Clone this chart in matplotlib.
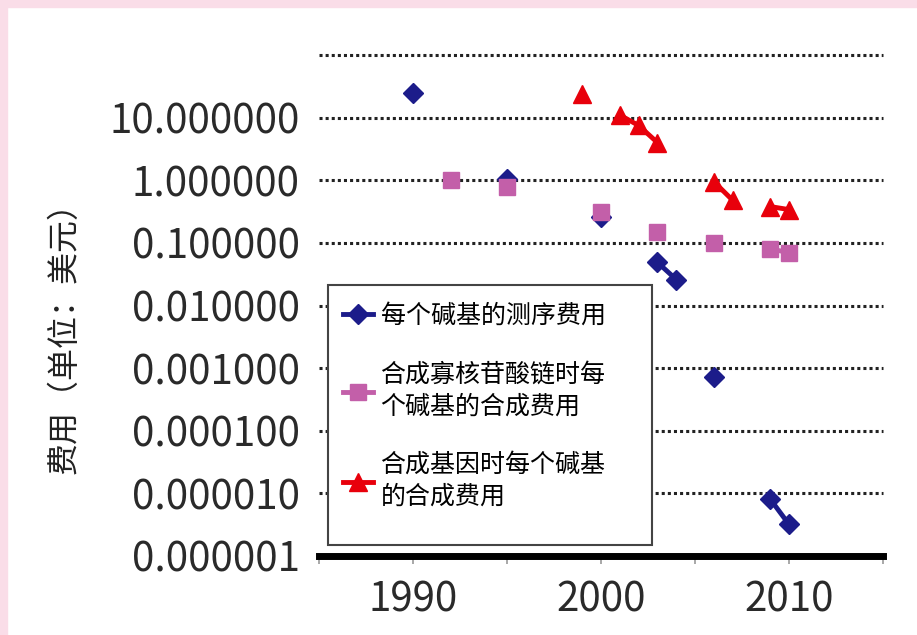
import numpy as np
import matplotlib.pyplot as plt
from matplotlib.patches import Rectangle

plt.rcParams['font.family'] = ['Noto Sans CJK SC', 'DejaVu Sans']

# Data (cost per base, USD)
seq_years = [1990, 1995, 2000, 2003, 2004, 2006, 2009, 2010]
seq_cost = [25, 1.05, 0.26, 0.049, 0.026, 0.00072, 8.1e-6, 3.2e-6]

oligo_years = [1992, 1995, 2000, 2003, 2006, 2009, 2010]
oligo_cost = [1.0, 0.78, 0.31, 0.15, 0.10, 0.08, 0.07]

gene_years = [1999, 2001, 2002, 2003, 2006, 2007, 2009, 2010]
gene_cost = [24, 11, 7.5, 4.0, 0.95, 0.48, 0.38, 0.34]

series_labels = ["每个碱基的测序费用",
                 "合成寡核苷酸链时每\n个碱基的合成费用",
                 "合成基因时每个碱基\n的合成费用"]
y_ticks = [1e-6, 1e-5, 1e-4, 1e-3, 1e-2, 1e-1, 1, 10, 100]
y_tick_labels = ["0.000001", "0.000010", "0.000100", "0.001000", "0.010000",
                 "0.100000", "1.000000", "10.000000", ""]
x_ticks = [1990, 2000, 2010]
y_label = "费用（单位：美元）"


def with_gaps(xs, ys):
    # break the line wherever a year is missing
    out_x, out_y = [xs[0]], [ys[0]]
    for i in range(1, len(xs)):
        if xs[i] - xs[i - 1] > 1:
            out_x.append(np.nan)
            out_y.append(np.nan)
        out_x.append(xs[i])
        out_y.append(ys[i])
    return out_x, out_y


fig = plt.figure(figsize=(9.17, 6.35), dpi=100)
fig.patches.append(Rectangle((0, 1 - 7 / 635), 1, 7 / 635, transform=fig.transFigure,
                             color="#fadde8", zorder=0))
fig.patches.append(Rectangle((0, 0), 7 / 917, 1, transform=fig.transFigure,
                             color="#fadde8", zorder=0))

ax = fig.add_axes([319 / 917, 1 - 556 / 635, 564 / 917, 501 / 635])

x, y = with_gaps(seq_years, seq_cost)
h1, = ax.plot(x, y, color="#1c1c8a", lw=3.5, marker="D", markersize=10, zorder=3)
x, y = with_gaps(oligo_years, oligo_cost)
h2, = ax.plot(x, y, color="#c35fa9", lw=3.5, marker="s", markersize=12, zorder=4)
x, y = with_gaps(gene_years, gene_cost)
h3, = ax.plot(x, y, color="#e8000b", lw=3.5, marker="^", markersize=13, zorder=5)

ax.set_yscale("log")
ax.set_ylim(1e-6, 1e2)
ax.set_xlim(1985, 2015)
ax.set_yticks(y_ticks)
ax.set_yticklabels(y_tick_labels)
ax.yaxis.set_minor_locator(plt.NullLocator())
ax.set_xticks(x_ticks)
ax.set_xticks([1985, 1995, 2005, 2015], minor=True)
ax.tick_params(axis="y", length=0, pad=14, labelsize=29, labelcolor="#2a2a2a")
ax.tick_params(axis="x", which="both", length=6, width=1.2, color="#999999",
               pad=11, labelsize=29, labelcolor="#2a2a2a")
for lbl in ax.get_xticklabels() + ax.get_yticklabels():
    lbl.set_fontweight("light")

ax.yaxis.grid(True, linestyle=(0, (1, 1)), color="#222222", lw=2.2)
for gl in ax.get_ygridlines():
    gl.set_clip_on(False)

for side in ["top", "right", "left"]:
    ax.spines[side].set_visible(False)
ax.spines["bottom"].set_linewidth(5)
ax.spines["bottom"].set_zorder(6)

fig.text(65 / 917, 1 - 330 / 635, y_label, rotation=90, fontsize=23,
         ha="center", va="center", color="#222222")

# legend box
ax.add_patch(Rectangle((9 / 564, 11 / 501), 324 / 564, 260 / 501, transform=ax.transAxes,
                       facecolor="white", edgecolor="#444444", lw=1.5, zorder=7))
leg = ax.legend([h1, h2, h3], series_labels, loc="upper left",
                bbox_to_anchor=(14 / 564, 1 - (285 - 55 + 8) / 501), frameon=False,
                handlelength=1.2, handletextpad=0.3, labelspacing=1.3,
                borderaxespad=0, prop={"size": 18})
for t in leg.get_texts():
    t.set_linespacing(1.3)
leg.set_zorder(8)

fig.savefig("out.png", dpi=100)
